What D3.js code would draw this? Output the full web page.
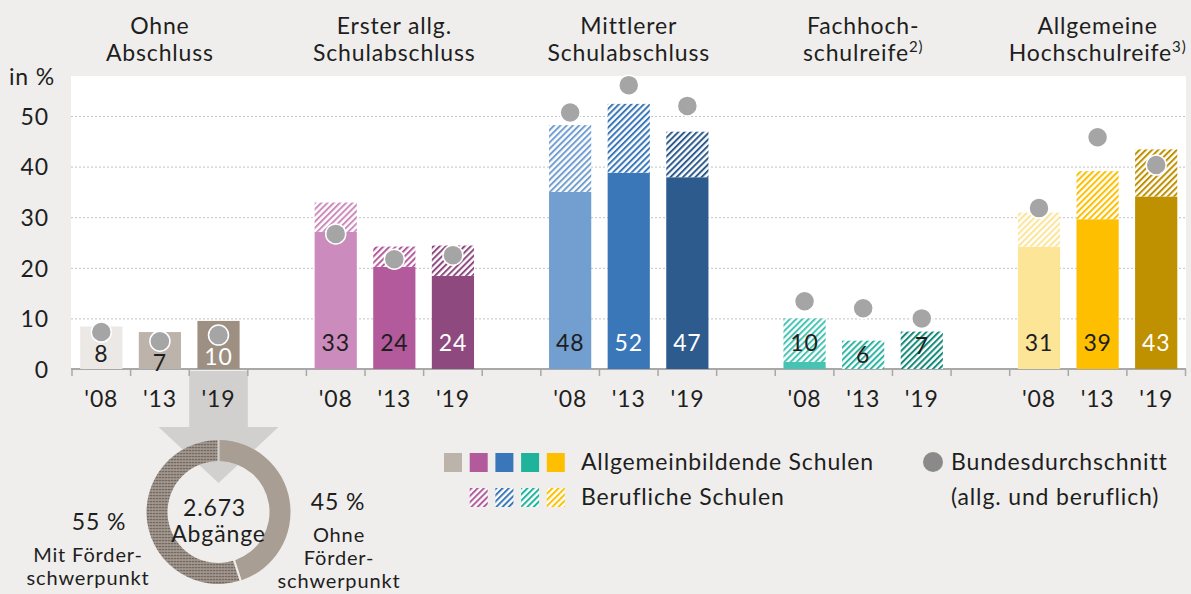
<!DOCTYPE html>
<html lang="de">
<head>
  <meta charset="UTF-8">
  <title>Abschlüsse</title>
  <style>
    body { margin: 0; background: #efeeec; }
    svg text { font-family: Lato, "Noto Sans", sans-serif; fill: #1e1e1e; font-size: 23px; letter-spacing: 0.85px; }
    .gridlines line { stroke: #c2c2c2; stroke-dasharray: 2, 2; }
    .gridlines path, .y.axis path, .x.axis path { display: none; }
  </style>
  <script src="https://d3js.org/d3.v7.min.js"></script>
</head>
<body>
  <svg id="chart" width="1191" height="594"></svg>
  <script>
    // data
    const groups = [
      ["Ohne", "Abschluss"],
      ["Erster allg.", "Schulabschluss"],
      ["Mittlerer", "Schulabschluss"],
      ["Fachhoch-", "schulreife", "2)"],
      ["Allgemeine", "Hochschulreife", "3)"]
    ];
    const years = ["'08", "'13", "'19"];
    const allgemein = [[8.4, 7.3, 9.5], [27.1, 20.2, 18.4], [35.0, 38.8, 37.9], [1.4, 0, 0], [24.2, 29.6, 34.1]];
    const beruflich = [[0, 0, 0], [5.8, 4.0, 6.0], [13.2, 13.6, 9.0], [8.6, 5.6, 7.4], [6.7, 9.5, 9.3]];
    const totalLabels = [[8, 7, 10], [33, 24, 24], [48, 52, 47], [10, 6, 7], [31, 39, 43]];
    const bundesschnitt = [[7.3, 5.5, 6.7], [26.7, 21.7, 22.5], [50.7, 56.1, 52.0], [13.4, 12.0, 10.0], [31.8, 45.8, 40.3]];
    const yTicks = [0, 10, 20, 30, 40, 50];
    const donutValues = [45, 55];
    const donutPercent = ["45 %", "55 %"];
    const donutNames = [["Ohne", "Förder-", "schwerpunkt"], ["Mit Förder-", "schwerpunkt"]];
    const donutCenter = ["2.673", "Abgänge"];
    const legendLabels = ["Allgemeinbildende Schulen", "Berufliche Schulen", "Bundesdurchschnitt", "(allg. und beruflich)"];

    // palette
    const barColors = [
      ["#ebe8e5", "#bcb3ab", "#9d9083"],
      ["#cc8bbd", "#b25a9c", "#8e4a7e"],
      ["#729fcf", "#3a77b8", "#2e5b8d"],
      ["#46c3b3", "#2db5a2", "#158a78"],
      ["#fde598", "#fdbf00", "#bf9000"]
    ];
    const whiteText = [[false, false, true], [false, false, true], [false, true, true], [false, false, false], [false, false, true]];
    const legendColors = ["#bcb3ab", "#b25a9c", "#3a77b8", "#1fb39b", "#fdbf00"];

    const svg = d3.select("#chart");
    const defs = svg.append("defs");

    function hatch(id, color) {
      const p = defs.append("pattern")
        .attr("id", id)
        .attr("patternUnits", "userSpaceOnUse")
        .attr("width", 4.4).attr("height", 4.4)
        .attr("patternTransform", "rotate(45)");
      p.append("rect").attr("width", 4.4).attr("height", 4.4).attr("fill", "#fff");
      p.append("rect").attr("width", 2).attr("height", 4.4).attr("fill", color);
    }
    barColors.forEach((row, g) => row.forEach((c, i) => hatch(`h${g}${i}`, c)));
    legendColors.forEach((c, i) => hatch(`hl${i}`, c));

    const dots = defs.append("pattern")
      .attr("id", "dots")
      .attr("patternUnits", "userSpaceOnUse")
      .attr("width", 3).attr("height", 3);
    dots.append("rect").attr("width", 3).attr("height", 3).attr("fill", "#a39990");
    dots.append("circle").attr("cx", 1.5).attr("cy", 1.5).attr("r", 0.85).attr("fill", "#574e46");

    // slots: three bars per group, one empty slot between groups
    const slots = [];
    groups.forEach((g, gi) => {
      years.forEach((y, yi) => slots.push(`${gi}-${yi}`));
      if (gi < groups.length - 1) slots.push(`gap${gi}`);
    });
    const pad = 0.28;
    const xScale = d3.scaleBand().domain(slots)
      .range([72, 1185.5])
      .paddingInner(pad).paddingOuter(pad / 2);
    const step = xScale.step();
    const bw = xScale.bandwidth();
    const slotLeft = k => xScale(k) - step * pad / 2;

    const yScale = d3.scaleLinear().domain([0, 50]).range([369, 116]);

    // plot background
    svg.append("rect")
      .attr("x", 71).attr("y", 76)
      .attr("width", 1186 - 71).attr("height", yScale(0) - 76)
      .attr("fill", "#fff");

    let grid = d3.axisLeft(yScale)
      .tickValues(yTicks.filter(d => d > 0))
      .tickSize(-(1186 - 71))
      .tickFormat("");
    svg.append("g")
      .attr("class", "gridlines")
      .attr("transform", "translate(71,0)")
      .call(grid);

    svg.append("g")
      .attr("class", "y axis")
      .attr("transform", "translate(49,0)")
      .call(d3.axisLeft(yScale).tickValues(yTicks).tickSize(0).tickPadding(0))
      .selectAll("text")
      .attr("dy", "0.36em")
      .style("font-size", "23px")
      .attr("fill", "#1e1e1e");

    svg.append("text")
      .attr("x", 55).attr("y", 85)
      .attr("text-anchor", "end")
      .text("in %");

    // arrow from '19 of "Ohne Abschluss" to the donut
    const aL = slotLeft("0-2"), aR = aL + step, aM = aL + step / 2;
    svg.append("polygon")
      .attr("points", [[aL, 371], [aR, 371], [aR, 427], [aM + 60, 427], [aM, 483], [aM - 60, 427], [aL, 427]].join(" "))
      .attr("fill", "#d1d0cf");

    // x axis line and slot ticks
    svg.append("line")
      .attr("x1", 71).attr("x2", 1186)
      .attr("y1", yScale(0)).attr("y2", yScale(0))
      .attr("stroke", "#a8a8a8").attr("stroke-width", 2);
    svg.append("g").selectAll("line")
      .data(d3.range(slots.length + 1))
      .join("line")
      .attr("x1", i => 72 + i * step).attr("x2", i => 72 + i * step)
      .attr("y1", yScale(0)).attr("y2", yScale(0) + 7)
      .attr("stroke", "#a8a8a8").attr("stroke-width", 1.5);

    const barKeys = slots.filter(k => !k.startsWith("gap"));
    svg.append("g")
      .attr("class", "x axis")
      .attr("transform", `translate(0,${yScale(0)})`)
      .call(d3.axisBottom(xScale).tickValues(barKeys).tickSize(0).tickPadding(22)
        .tickFormat(k => years[+k.split("-")[1]]))
      .selectAll("text")
      .style("font-size", "23px")
      .attr("fill", "#1e1e1e");

    // bars
    const rows = [];
    groups.forEach((g, gi) => years.forEach((y, yi) => rows.push({
      g: gi, i: yi, key: `${gi}-${yi}`,
      a: allgemein[gi][yi], b: beruflich[gi][yi],
      label: totalLabels[gi][yi], avg: bundesschnitt[gi][yi]
    })));

    const bars = svg.append("g");
    bars.selectAll("rect.solid")
      .data(rows.filter(d => d.a > 0))
      .join("rect")
      .attr("class", "solid")
      .attr("x", d => xScale(d.key))
      .attr("width", bw)
      .attr("y", d => yScale(d.a))
      .attr("height", d => yScale(0) - yScale(d.a))
      .attr("fill", d => barColors[d.g][d.i]);
    bars.selectAll("rect.hatch")
      .data(rows.filter(d => d.b > 0))
      .join("rect")
      .attr("class", "hatch")
      .attr("x", d => xScale(d.key))
      .attr("width", bw)
      .attr("y", d => yScale(d.a + d.b))
      .attr("height", d => yScale(d.a) - yScale(d.a + d.b))
      .attr("fill", d => `url(#h${d.g}${d.i})`);

    // Bundesdurchschnitt
    svg.append("g").selectAll("circle")
      .data(rows)
      .join("circle")
      .attr("cx", d => xScale(d.key) + bw / 2)
      .attr("cy", d => yScale(d.avg))
      .attr("r", 10)
      .attr("fill", "#a5a5a5")
      .attr("stroke", "#fff")
      .attr("stroke-width", 1.5);

    svg.append("g").selectAll("text")
      .data(rows)
      .join("text")
      .attr("x", d => xScale(d.key) + bw / 2)
      .attr("y", d => Math.max(343, yScale(d.a + d.b) + 14, yScale(d.avg) + 22))
      .attr("dy", "0.36em")
      .attr("text-anchor", "middle")
      .style("fill", d => whiteText[d.g][d.i] ? "#fff" : "#1e1e1e")
      .text(d => d.label);

    // group headers
    groups.forEach((lines, gi) => {
      const cx = xScale(`${gi}-1`) + bw / 2;
      svg.append("text")
        .attr("x", cx).attr("y", 34)
        .attr("text-anchor", "middle")
        .text(lines[0]);
      const t = svg.append("text")
        .attr("x", cx).attr("y", 61)
        .attr("text-anchor", "middle")
        .text(lines[1]);
      if (lines[2]) {
        t.append("tspan")
          .attr("dy", -9)
          .style("font-size", "15px")
          .text(lines[2]);
      }
    });

    // donut
    const cx = aM, cy = 512;
    const pie = d3.pie().sort(null).padAngle(0.025)(donutValues);
    const arc = d3.arc().innerRadius(51).outerRadius(72);
    svg.append("g")
      .attr("transform", `translate(${cx},${cy})`)
      .selectAll("path")
      .data(pie)
      .join("path")
      .attr("d", arc)
      .attr("fill", (d, i) => i === 0 ? "#a89e93" : "url(#dots)");

    svg.append("text").attr("x", cx - 4).attr("y", 516).attr("text-anchor", "middle").text(donutCenter[0]);
    svg.append("text").attr("x", cx).attr("y", 542).attr("text-anchor", "middle").text(donutCenter[1]);

    svg.append("text").attr("x", 338).attr("y", 510).attr("text-anchor", "middle").text(donutPercent[0]);
    donutNames[0].forEach((s, i) => {
      svg.append("text").attr("x", 339).attr("y", 542 + i * 23).attr("text-anchor", "middle")
        .style("font-size", "20px").text(s);
    });
    svg.append("text").attr("x", 99).attr("y", 530).attr("text-anchor", "middle").text(donutPercent[1]);
    donutNames[1].forEach((s, i) => {
      svg.append("text").attr("x", 88).attr("y", 562 + i * 23).attr("text-anchor", "middle")
        .style("font-size", "20px").text(s);
    });

    // legend
    const leg = svg.append("g");
    legendColors.forEach((c, i) => {
      leg.append("rect")
        .attr("x", 444 + i * 25.7).attr("y", 453)
        .attr("width", 18).attr("height", 19)
        .attr("fill", c);
      if (i > 0) {
        leg.append("rect")
          .attr("x", 444 + i * 25.7).attr("y", 488)
          .attr("width", 18).attr("height", 19)
          .attr("fill", `url(#hl${i})`);
      }
    });
    leg.append("text").attr("x", 581).attr("y", 470).text(legendLabels[0]);
    leg.append("text").attr("x", 581).attr("y", 505).text(legendLabels[1]);
    leg.append("circle").attr("cx", 933).attr("cy", 462).attr("r", 10).attr("fill", "#8a8a8a");
    leg.append("text").attr("x", 951).attr("y", 470).text(legendLabels[2]);
    leg.append("text").attr("x", 951).attr("y", 505).text(legendLabels[3]);
  </script>
</body>
</html>
